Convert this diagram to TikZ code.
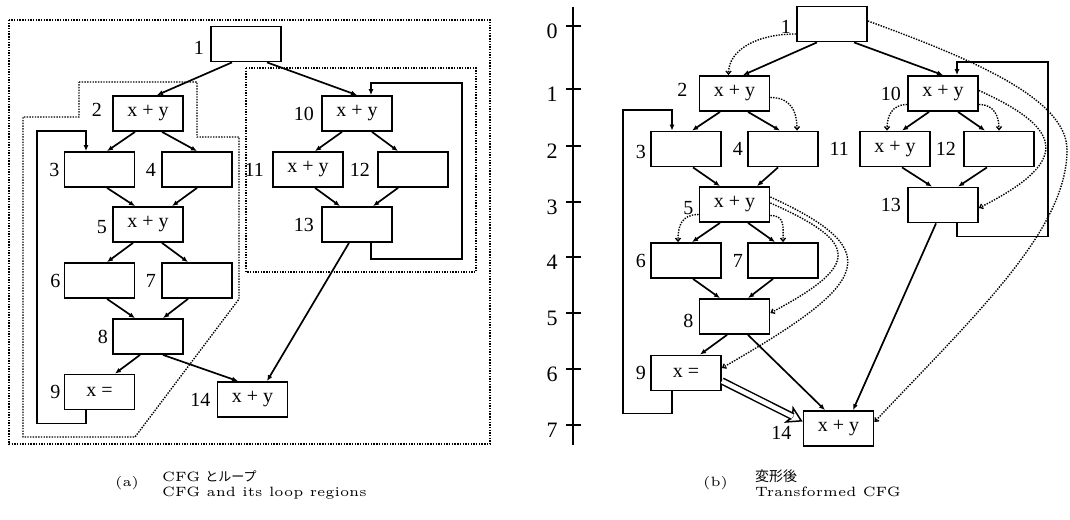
\documentclass[tikz,border=0pt]{standalone}
\usepackage{fontspec}
\usepackage{graphicx}
\newfontfamily\tms{Liberation Serif}
\newfontfamily\cjk{Noto Sans CJK JP}
\usetikzlibrary{positioning,arrows.meta,calc}

\tikzset{
  blk/.style={draw, line width=1.8pt, minimum width=70pt, minimum height=35pt, inner sep=0pt, font=\tms\fontsize{20}{24}\selectfont},
  lbl/.style={inner sep=0pt, font=\tms\fontsize{20}{24}\selectfont},
  flow/.style={line width=1.7pt, -{Latex[length=6pt,width=5pt]}},
  region/.style={line width=1.4pt, dash pattern=on 1.4pt off 1.3pt},
  dep/.style={line width=1.4pt, dash pattern=on 1.4pt off 1.3pt, -{Straight Barb[length=3pt,width=5pt]}},
  motionhead/.style={line width=1.5pt, -{Stealth[open,length=16pt,width=19pt,inset=4pt]}},
  motion/.style={line width=1.5pt, double, double distance=4.5pt, shorten >=11pt},
  captxt/.style={inner sep=0pt, anchor=base west}
}
\newcommand{\capfont}[1]{\scalebox{2.7}{\fontsize{5}{6}\selectfont #1}}

\begin{document}
\begin{tikzpicture}[x=1pt, y=-1pt]
  \useasboundingbox (0,0) rectangle (1070,519);

  % (a) CFG and its loop regions
  \node[blk] (a1) at (246,44) {};
  \node[blk] (a2) at (148,113.5) {x + y};
  \node[blk] (a3) at (99.5,169.5) {};
  \node[blk] (a4) at (197,169.5) {};
  \node[blk] (a5) at (148,224.5) {x + y};
  \node[blk] (a6) at (99.5,280.5) {};
  \node[blk] (a7) at (197,280.5) {};
  \node[blk] (a8) at (148,336.5) {};
  \node[blk] (a9) at (99.5,392) {x =\hspace{12pt}};
  \node[blk] (a10) at (357,113.5) {x + y};
  \node[blk] (a11) at (308,169.5) {x + y};
  \node[blk] (a12) at (413,169.5) {};
  \node[blk] (a13) at (357,224.5) {};
  \node[blk] (a14) at (252.5,399.5) {x + y};

  % loop regions
  \draw[region] (9,20) rectangle (490,444);
  \draw[region] (246,68) rectangle (476,272);
  \draw[region] (79,82) -- (197,82) -- (197,137) -- (239,137) -- (239,299)
    -- (135,437) -- (23,437) -- (23,117) -- (79,117) -- cycle;

  \foreach \s/\p/\t/\q in {a1/-14/a2/9, a1/21/a10/0, a2/-13/a3/7.5, a2/14/a4/0,
      a3/7.5/a5/-13, a4/0/a5/24, a5/-15/a6/7.5, a5/14/a7/-9, a6/7.5/a8/-13,
      a7/-9/a8/15, a8/-8/a9/15.5, a8/15/a14/-14.5, a13/-8/a14/14.5,
      a10/-15/a11/7, a10/15/a12/-15, a11/7/a13/-17, a12/-15/a13/16}
    \draw[flow] ($(\s.south)+(\p,0)$) -- ($(\t.north)+(\q,0)$);
  \draw[flow] ($(a9.south)+(-13.5,0)$) -- ++(0,13) -| (37,131) -| ($(a3.north)+(-13.5,0)$);
  \draw[flow] ($(a13.south)+(14,0)$) -- ++(0,16) -| (462,83) -| ($(a10.north)+(14,0)$);

  % (b) transformed CFG
  \draw[line width=1.7pt] (573,7) -- (573,445);
  \foreach \v/\yy in {0/26,1/89,2/146,3/202,4/257,5/313,6/369,7/425} {
    \draw[line width=1.7pt] (566,\yy) -- (581,\yy);
    \node[lbl, font=\tms\fontsize{22}{26}\selectfont] (t\v) at (552,\yy+5) {\v};
  }

  \node[blk] (b1) at (832,24) {};
  \node[blk] (b2) at (734.5,93.5) {x + y};
  \node[blk] (b3) at (686,149) {};
  \node[blk] (b4) at (783,149) {};
  \node[blk] (b5) at (734.5,204.5) {x + y};
  \node[blk] (b6) at (686,260.5) {};
  \node[blk] (b7) at (783,260.5) {};
  \node[blk] (b8) at (734.5,316.5) {};
  \node[blk] (b9) at (686,373) {x =\hspace{12pt}};
  \node[blk] (b10) at (943,93.5) {x + y};
  \node[blk] (b11) at (895,149) {x + y};
  \node[blk] (b12) at (999,149) {};
  \node[blk] (b13) at (943,205) {};
  \node[blk] (b14) at (838.5,428.5) {x + y};

  \foreach \s/\p/\t/\q in {b1/-15/b2/8.5, b1/22/b10/0, b2/-14.5/b3/6, b2/13.5/b4/-3,
      b3/7/b5/-14.5, b4/-5/b5/22.5, b5/-14.5/b6/6, b5/13.5/b7/-8, b6/7/b8/-14.5,
      b7/-10/b8/13.5, b8/-7.5/b9/14, b8/13.5/b14/-13.5, b13/-7/b14/14.5,
      b10/-14/b11/7, b10/15/b12/-14, b11/7/b13/-11, b12/-12/b13/15}
    \draw[flow] ($(\s.south)+(\p,0)$) -- ($(\t.north)+(\q,0)$);
  \draw[flow] ($(b9.south)+(-14,0)$) -- ++(0,22) -| (623,110) -| ($(b3.north)+(-14,0)$);
  \draw[flow] ($(b13.south)+(14,0)$) -- ++(0,13) -| (1048,62) -| ($(b10.north)+(14,0)$);

  % dependences
  \coordinate (turn) at (1067,150);
  \draw[dep] ($(b1.west)+(0,10)$) .. controls +(-40,0) and +(0,-25) .. ($(b2.north)+(-6,0)$);
  \draw[dep] ($(b2.east)+(0,4)$) .. controls +(20,0) and +(0,-20) .. ($(b4.north)+(14,0)$);
  \draw[dep] ($(b5.west)+(0,10)$) .. controls +(-18,0) and +(0,-15) .. ($(b6.north)+(-8,0)$);
  \draw[dep] ($(b5.east)+(0,11)$) .. controls +(15,0) and +(0,-15) .. (b7.north);
  \draw[dep] ($(b5.east)+(0,-1.5)$) .. controls +(90,40) and +(90,-48) .. ($(b8.east)+(0,-3.5)$);
  \draw[dep] ($(b5.east)+(0,-7.5)$) .. controls +(120,55) and +(146,-84) .. ($(b9.east)+(0,-5)$);
  \draw[dep] ($(b10.west)+(0,11)$) .. controls +(-15,0) and +(0,-15) .. ($(b11.north)+(-8,0)$);
  \draw[dep] ($(b10.east)+(0,11)$) .. controls +(15,0) and +(0,-15) .. (b12.north);
  \draw[dep] ($(b10.east)+(0,-3)$) .. controls +(89,40) and +(89,-45) .. ($(b13.east)+(0,3)$);
  \draw[dep] ($(b1.east)+(0,-3)$) .. controls +(110,40) and +(0,-50) .. (turn)
    .. controls +(0,80) and +(100,-106) .. ($(b14.east)+(0,-6.5)$);

  % code motion 9 -> 14
  \coordinate (mvs) at ($(b9.east)+(0,8)$);
  \coordinate (mve) at ($(b14.west)+(0,-7)$);
  \draw[motionhead] ($(mvs)!0.5!(mve)$) -- (mve);
  \draw[motion] (mvs) -- (mve);

  % block numbers
  \foreach \n/\t/\g/\d in {a1/1/6/-4, a2/2/10/4, a3/3/4/0, a4/4/5/0, a5/5/5/-3,
      a6/6/3/0, a7/7/5/0, a8/8/4/0, a9/9/3/0, a10/10/7/0, a11/11/8/0, a12/12/7/0,
      a13/13/7/0, a14/14/6/0, b1/1/5/-3, b2/2/11/4, b3/3/4/-3, b4/4/4/0, b5/5/5/-4,
      b6/6/4/0, b7/7/4/0, b8/8/5/-4, b9/9/4/0, b10/10/6/0, b11/11/10/0, b12/12/7/0,
      b13/13/6/0, b14/14/11/-4}
    \node[lbl, left=\g pt of \n, yshift=\d pt] (l\n) {\t};

  % captions
  \node[captxt] (capa) at (115,486) {\capfont{(a)}};
  \node[captxt] (capa1) at (162,481) {\capfont{CFG}\hspace{5pt}{\cjk\fontsize{13}{15}\selectfont とループ}};
  \node[captxt] (capa2) at (162,496) {\capfont{CFG and its loop regions}};
  \node[captxt] (capb) at (703,486) {\capfont{(b)}};
  \node[captxt] (capb1) at (755,481) {{\cjk\fontsize{14}{16}\selectfont 変形後}};
  \node[captxt] (capb2) at (755,496) {\capfont{Transformed CFG}};
\end{tikzpicture}
\end{document}
